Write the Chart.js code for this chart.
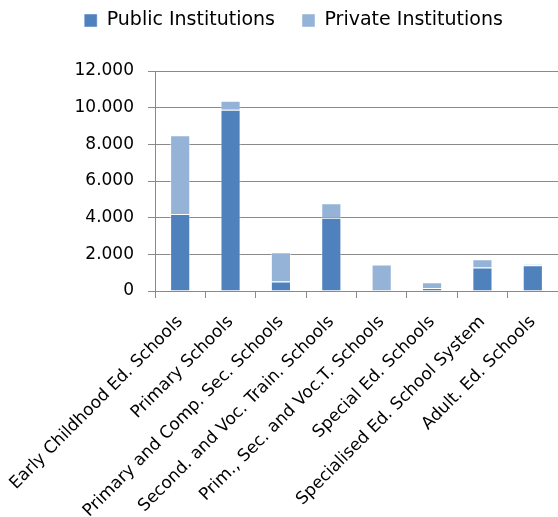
<!DOCTYPE html>
<html lang="en">
<head>
<meta charset="UTF-8">
<title>Schools by Type and Ownership</title>
<script src="https://cdn.jsdelivr.net/npm/chart.js"></script>
<style>
  html, body { margin: 0; padding: 0; background: #fff; }
  .chart-box { position: relative; width: 558px; height: 517px; }
</style>
</head>
<body>
<div class="chart-box"><canvas id="schoolsChart"></canvas></div>
<script>
  const schoolTypes = [
    'Early Childhood Ed. Schools',
    'Primary Schools',
    'Primary and Comp. Sec. Schools',
    'Second. and Voc. Train. Schools',
    'Prim., Sec. and Voc.T. Schools',
    'Special Ed. Schools',
    'Specialised Ed. School System',
    'Adult. Ed. Schools'
  ];
  const publicSchools = [4200, 9890, 520, 4000, 0, 170, 1280, 1400];
  const privateSchools = [4290, 490, 1590, 780, 1440, 310, 450, 60];
  const yTickValues = [0, 2000, 4000, 6000, 8000, 10000, 12000];

  const gridColor = '#8a8a8a';
  const fontFamily = '"DejaVu Sans", sans-serif';

  // legend keeps its item spacing but reserves a fixed height above the plot
  const legendSpacer = {
    id: 'legendSpacer',
    beforeInit(chart) {
      const fit = chart.legend.fit;
      chart.legend.fit = function () {
        fit.call(this);
        this.height = 87;
      };
    }
  };

  new Chart(document.getElementById('schoolsChart'), {
    type: 'bar',
    data: {
      labels: schoolTypes,
      datasets: [
        {
          label: 'Public Institutions',
          data: publicSchools,
          backgroundColor: '#4f81bd',
          borderColor: 'rgba(255,255,255,0.45)',
          borderWidth: 1
        },
        {
          label: 'Private Institutions',
          data: privateSchools,
          backgroundColor: '#95b3d7',
          borderColor: 'rgba(255,255,255,0.45)',
          borderWidth: 1
        }
      ]
    },
    options: {
      responsive: true,
      maintainAspectRatio: false,
      animation: false,
      categoryPercentage: 0.8,
      barPercentage: 0.5,
      layout: { padding: { left: 29, top: -16, right: 0, bottom: 0 } },
      plugins: {
        legend: {
          position: 'top',
          labels: {
            boxWidth: 13,
            boxHeight: 13,
            padding: 27,
            color: '#000',
            font: { family: fontFamily, size: 19 }
          }
        },
        tooltip: { enabled: false }
      },
      scales: {
        x: {
          stacked: true,
          grid: { drawOnChartArea: false, color: gridColor, tickLength: 7, offset: true },
          border: { color: gridColor },
          ticks: {
            autoSkip: false,
            minRotation: 45,
            maxRotation: 45,
            padding: 14,
            color: '#000',
            font: { family: fontFamily, size: 17 }
          },
          // long rotated labels may hang left of the plot; don't let them push it
          afterFit: (scale) => {
            scale.height = 226;
            scale.paddingLeft = 0;
            scale.paddingRight = 0;
          }
        },
        y: {
          stacked: true,
          min: 0,
          max: 12000,
          grid: { color: gridColor, tickLength: 7 },
          border: { color: gridColor },
          ticks: {
            padding: 14,
            color: '#000',
            font: { family: fontFamily, size: 17 },
            callback: (v) => v.toLocaleString('de-DE')
          },
          afterBuildTicks: (scale) => { scale.ticks = yTickValues.map(v => ({ value: v })); },
          afterFit: (scale) => { scale.width = 126; }
        }
      }
    },
    plugins: [legendSpacer]
  });
</script>
</body>
</html>
